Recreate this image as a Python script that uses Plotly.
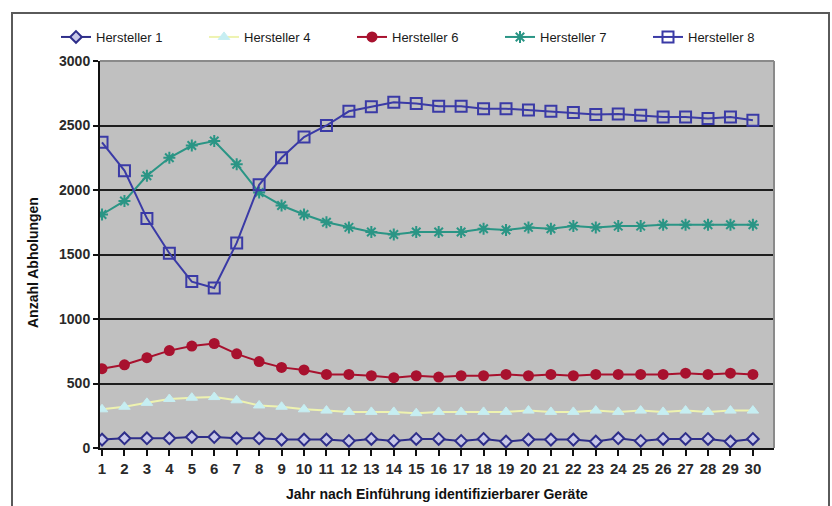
import plotly.graph_objects as go

# Jahre nach Einführung und Abholungen je Hersteller
jahre = list(range(1, 31))
hersteller_1 = [65, 75, 75, 75, 85, 85, 75, 75, 65, 65, 65, 55, 70, 55, 70,
                70, 55, 70, 50, 65, 65, 65, 50, 75, 55, 70, 70, 70, 50, 70]
hersteller_4 = [300, 320, 350, 380, 390, 395, 370, 330, 320, 300, 290, 280, 280, 280, 270,
                280, 280, 280, 280, 290, 280, 280, 290, 280, 290, 280, 290, 280, 290, 290]
hersteller_6 = [615, 645, 700, 755, 790, 810, 730, 670, 625, 605, 570, 570, 560, 545, 560,
                550, 560, 560, 570, 560, 570, 560, 570, 570, 570, 570, 580, 570, 580, 570]
hersteller_7 = [1810, 1915, 2110, 2250, 2345, 2380, 2200, 1980, 1880, 1810, 1750, 1710, 1675, 1655, 1675,
                1675, 1675, 1700, 1690, 1710, 1700, 1720, 1710, 1720, 1720, 1730, 1730, 1730, 1730, 1730]
hersteller_8 = [2370, 2150, 1780, 1510, 1290, 1240, 1590, 2040, 2250, 2410, 2500, 2610, 2645, 2680, 2670,
                2650, 2650, 2630, 2630, 2620, 2610, 2600, 2585, 2590, 2580, 2565, 2565, 2555, 2565, 2540]

y_ticks = [0, 500, 1000, 1500, 2000, 2500, 3000]

W, H = 832, 506
L, R, T, B = 100, 58, 61, 58
pw, ph = W - L - R, H - T - B


def px_x(x):
    return (x - L) / pw


def px_y(y):
    return (H - B - y) / ph


fig = go.Figure()

fig.add_trace(go.Scatter(
    x=jahre, y=hersteller_1, name="Hersteller 1", mode="lines+markers",
    line=dict(color="#2E2E8A", width=2),
    marker=dict(symbol="diamond", size=9, color="#C8C8E8",
                line=dict(color="#2E2E8A", width=2)),
))
fig.add_trace(go.Scatter(
    x=jahre, y=hersteller_4, name="Hersteller 4", mode="lines+markers",
    line=dict(color="#EEF3B0", width=2),
    marker=dict(symbol="triangle-up", size=10, color="#C6EEF2",
                line=dict(color="#C6EEF2", width=1)),
))
fig.add_trace(go.Scatter(
    x=jahre, y=hersteller_6, name="Hersteller 6", mode="lines+markers",
    line=dict(color="#A8112E", width=2),
    marker=dict(symbol="circle", size=11, color="#A8112E"),
))
fig.add_trace(go.Scatter(
    x=jahre, y=hersteller_7, name="Hersteller 7", mode="lines+markers",
    line=dict(color="#2A9585", width=2),
    marker=dict(symbol="asterisk-open", size=10,
                line=dict(color="#2A9585", width=2)),
))
fig.add_trace(go.Scatter(
    x=jahre, y=hersteller_8, name="Hersteller 8", mode="lines+markers",
    line=dict(color="#3A3AA6", width=2),
    marker=dict(symbol="square-open", size=11,
                line=dict(color="#3A3AA6", width=2)),
))

shapes = [
    # outer chart frame
    dict(type="rect", xref="paper", yref="paper",
         x0=px_x(12), x1=px_x(829), y0=px_y(520), y1=px_y(13),
         line=dict(color="#5A5A5A", width=2), layer="below"),
    # plot area border (top, right)
    dict(type="line", xref="paper", yref="paper", x0=0, x1=1, y0=1, y1=1,
         line=dict(color="#8A8A8A", width=2)),
    dict(type="line", xref="paper", yref="paper", x0=1, x1=1, y0=0, y1=1,
         line=dict(color="#8A8A8A", width=2)),
]

annotations = [
    dict(text="<b>Jahr nach Einführung identifizierbarer Geräte</b>",
         xref="paper", yref="paper", x=0.5, y=px_y(494),
         xanchor="center", yanchor="middle", showarrow=False,
         font=dict(size=14, color="#111111")),
    dict(text="<b>Anzahl Abholungen</b>",
         xref="paper", yref="paper", x=px_x(33), y=px_y(263),
         xanchor="center", yanchor="middle", showarrow=False, textangle=-90,
         font=dict(size=14, color="#111111")),
]

fig.update_layout(
    width=W, height=H,
    margin=dict(l=L, r=R, t=T, b=B, autoexpand=False),
    paper_bgcolor="white",
    plot_bgcolor="#C0C0C0",
    font=dict(family="Liberation Sans, Arial, sans-serif", color="#222222"),
    shapes=shapes,
    annotations=annotations,
    showlegend=True,
    legend=dict(
        orientation="h", x=px_x(56), xanchor="left", y=px_y(37), yanchor="middle",
        font=dict(size=13, color="#1A1A1A"),
        entrywidth=103, entrywidthmode="pixels",
        bgcolor="rgba(0,0,0,0)", tracegroupgap=0,
    ),
    xaxis=dict(
        range=[0.91, 30.94], tickmode="array", tickvals=jahre,
        ticktext=[f"<b>{j}</b>" for j in jahre],
        showgrid=False, zeroline=False, automargin=False,
        showline=True, linecolor="#111111", linewidth=2,
        ticks="outside", ticklen=6, tickwidth=1.5, tickcolor="#111111",
        tickfont=dict(size=15, color="#2A2A2A"),
    ),
    yaxis=dict(
        range=[0, 3000], tickmode="array", tickvals=y_ticks,
        ticktext=[f"<b>{v}</b>" for v in y_ticks],
        showgrid=True, gridcolor="#1E1E1E", gridwidth=2,
        zeroline=False, automargin=False,
        showline=True, linecolor="#111111", linewidth=2,
        ticks="outside", ticklen=5, tickwidth=1.5, tickcolor="#111111",
        tickfont=dict(size=14, color="#2A2A2A"),
    ),
)

fig.write_html("out.html")
